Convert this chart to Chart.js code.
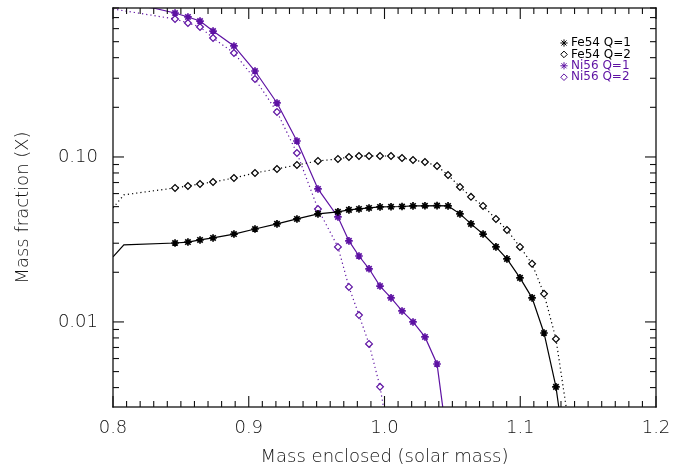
<!DOCTYPE html>
<html>
<head>
<meta charset="utf-8">
<script src="https://cdn.jsdelivr.net/npm/chart.js@4.4.1/dist/chart.umd.min.js"></script>
<style>
  html, body { margin: 0; padding: 0; background: #fff; }
  #wrap { position: relative; width: 688px; height: 473px; }
  #wrap canvas { position: absolute; left: 0; top: 0; }
  #frame { pointer-events: none; }
</style>
</head>
<body>
<div id="wrap">
  <canvas id="chart" width="688" height="473"></canvas>
  <canvas id="frame" width="688" height="473"></canvas>
</div>
<script>
// masa encerrada en cada marcador (M_sol)
const massGrid = [0.8457, 0.8552, 0.8641, 0.8737, 0.8891, 0.9046, 0.9208, 0.9355, 0.9510, 0.9657,
                  0.9738, 0.9812, 0.9886, 0.9967, 1.0048, 1.0129, 1.0210, 1.0298, 1.0387, 1.0468,
                  1.0556, 1.0637, 1.0726, 1.0821, 1.0902, 1.0998, 1.1087, 1.1175, 1.1263];

const fe54Q1 = [0.0301, 0.0305, 0.0314, 0.0323, 0.0341, 0.0366, 0.0393, 0.0421, 0.0452, 0.0465,
                0.0478, 0.0484, 0.0491, 0.0498, 0.0499, 0.0501, 0.0505, 0.0506, 0.0507, 0.0505,
                0.0452, 0.0393, 0.0341, 0.0285, 0.0241, 0.0185, 0.0140, 0.00857, 0.00404];
const fe54Q2 = [0.0649, 0.0667, 0.0686, 0.0705, 0.0746, 0.0800, 0.0846, 0.0895, 0.0946, 0.0973,
                0.1000, 0.1014, 0.1014, 0.1014, 0.1014, 0.0986, 0.0959, 0.0932, 0.0882, 0.0778,
                0.0658, 0.0573, 0.0505, 0.0421, 0.0361, 0.0285, 0.0225, 0.0148, 0.00789];
const ni56Q1 = [0.746, 0.706, 0.667, 0.580, 0.471, 0.332, 0.2125, 0.125, 0.0640, 0.0433,
                0.0310, 0.0251, 0.0210, 0.0165, 0.0140, 0.01166, 0.0100, 0.00811, 0.00556];
const ni56Q2 = [0.686, 0.649, 0.614, 0.526, 0.427, 0.297, 0.1875, 0.1057, 0.0484, 0.0285,
                0.0163, 0.0110, 0.00736, 0.00404];

// tramos de curva sin marcador [masa, X]
const fe54Q1Head = [[0.800, 0.0248], [0.808, 0.0293]];
const fe54Q1Tail = [[1.1290, 0.0028]];
const fe54Q2Head = [[0.800, 0.0491], [0.808, 0.0589], [0.818, 0.0605]];
const fe54Q2Tail = [[1.1345, 0.0028]];
const ni56Q1Head = [[0.800, 0.86], [0.8295, 0.80]];
const ni56Q1Tail = [[1.0435, 0.0028]];
const ni56Q2Head = [[0.800, 0.789]];
const ni56Q2Tail = [[1.0000, 0.0028]];

const xTicks = [];
for (let i = 80; i <= 120; i++) xTicks.push(i / 100);
const yTicks = [0.004, 0.005, 0.006, 0.007, 0.008, 0.009, 0.01, 0.02, 0.03, 0.04, 0.05, 0.06,
                0.07, 0.08, 0.09, 0.1, 0.2, 0.3, 0.4, 0.5, 0.6, 0.7, 0.8];
const yLabels = { '0.01': '0.01', '0.1': '0.10' };

const PURPLE = '#5e12a3';
const FONT = "'DejaVu Sans', sans-serif";
const AXIS = '#111111';

const buildPoints = (head, values, tail) => [
    ...head.map(p => ({ x: p[0], y: p[1], m: false })),
    ...values.map((v, i) => ({ x: massGrid[i], y: v, m: true })),
    ...tail.map(p => ({ x: p[0], y: p[1], m: false }))
];

const markRadius = r => ctx => (ctx.raw && ctx.raw.m ? r : 0);

const series = [
    { label: 'Fe54 Q=1', color: '#000', style: 'star', dash: [], data: buildPoints(fe54Q1Head, fe54Q1, fe54Q1Tail) },
    { label: 'Fe54 Q=2', color: '#000', style: 'rectRot', dash: [1.2, 3], data: buildPoints(fe54Q2Head, fe54Q2, fe54Q2Tail) },
    { label: 'Ni56 Q=1', color: PURPLE, style: 'star', dash: [], data: buildPoints(ni56Q1Head, ni56Q1, ni56Q1Tail) },
    { label: 'Ni56 Q=2', color: PURPLE, style: 'rectRot', dash: [1.2, 3], data: buildPoints(ni56Q2Head, ni56Q2, ni56Q2Tail) }
];

// caja y marcas hacia dentro (estilo IDL) en un lienzo superpuesto
function drawFrame(chart) {
    const ctx = document.getElementById('frame').getContext('2d');
    const a = chart.chartArea;
    const sx = chart.scales.x;
    const sy = chart.scales.y;
    const lw = 1.3;
    const tw = 1.1;
    ctx.clearRect(0, 0, 688, 473);
    ctx.fillStyle = AXIS;
    ctx.fillRect(a.left - lw / 2, a.top - lw / 2, lw, a.bottom - a.top + lw);
    ctx.fillRect(a.right - lw / 2, a.top - lw / 2, lw, a.bottom - a.top + lw);
    ctx.fillRect(a.left - lw / 2, a.top - lw / 2, a.right - a.left + lw, lw);
    ctx.fillRect(a.left - lw / 2, a.bottom - lw / 2, a.right - a.left + lw, lw);
    xTicks.forEach(v => {
        const px = sx.getPixelForValue(v);
        const len = Math.round(v * 100) % 10 === 0 ? 11 : 6;
        ctx.fillRect(px - tw / 2, a.bottom - len, tw, len);
        ctx.fillRect(px - tw / 2, a.top, tw, len);
    });
    yTicks.forEach(v => {
        const py = sy.getPixelForValue(v);
        const len = (v === 0.01 || v === 0.1) ? 11 : 6;
        ctx.fillRect(a.left, py - tw / 2, len, tw);
        ctx.fillRect(a.right - len, py - tw / 2, len, tw);
    });
}

function drawLegend(chart) {
    const ctx = chart.ctx;
    ctx.save();
    ctx.setLineDash([]);
    ctx.font = '12px ' + FONT;
    ctx.textBaseline = 'middle';
    series.forEach((s, i) => {
        const y = 43 + i * 11.4;
        ctx.strokeStyle = s.color;
        ctx.fillStyle = s.style === 'star' ? s.color : '#fff';
        Chart.helpers.drawPoint(ctx, {
            pointStyle: s.style,
            radius: s.style === 'star' ? 3.6 : 3.3,
            rotation: 0,
            borderWidth: s.style === 'star' ? 1.6 : 1.1
        }, 564, y);
        ctx.fillStyle = s.color;
        ctx.fillText(s.label, 571, y);
    });
    ctx.restore();
}

const decorations = {
    id: 'decorations',
    afterDraw(chart) {
        drawLegend(chart);
        drawFrame(chart);
    }
};

const chart = new Chart(document.getElementById('chart'), {
    type: 'line',
    data: {
        datasets: series.map(s => ({
            label: s.label,
            data: s.data,
            borderColor: s.color,
            borderWidth: 1.2,
            borderDash: s.dash,
            pointStyle: s.style,
            pointRadius: markRadius(s.style === 'star' ? 3.8 : 3.4),
            pointBorderWidth: s.style === 'star' ? 1.7 : 1.2,
            pointBorderColor: s.color,
            pointBackgroundColor: s.style === 'star' ? s.color : '#fff',
            tension: 0,
            fill: false
        }))
    },
    options: {
        responsive: false,
        animation: false,
        layout: { padding: { top: 8, right: 32, left: 0, bottom: 0 } },
        plugins: { legend: { display: false }, tooltip: { enabled: false } },
        scales: {
            x: {
                type: 'linear',
                min: 0.8,
                max: 1.2,
                afterBuildTicks: scale => { scale.ticks = xTicks.map(v => ({ value: v })); },
                afterFit: scale => { scale.height = 66; },
                grid: { display: false, drawTicks: false },
                border: { display: false },
                ticks: {
                    autoSkip: false,
                    maxRotation: 0,
                    padding: 11,
                    color: '#111',
                    font: { family: FONT, size: 18, weight: '200' },
                    callback: v => (Math.round(v * 100) % 10 === 0 ? v.toFixed(1) : '')
                },
                title: {
                    display: true,
                    text: 'Mass enclosed (solar mass)',
                    color: '#111',
                    padding: { top: 0, bottom: 5 },
                    font: { family: FONT, size: 18, weight: '200' }
                }
            },
            y: {
                type: 'logarithmic',
                min: 0.00305,
                max: 0.8,
                afterBuildTicks: scale => { scale.ticks = yTicks.map(v => ({ value: v })); },
                afterFit: scale => { scale.width = 113; scale.paddingTop = 0; scale.paddingBottom = 0; },
                grid: { display: false, drawTicks: false },
                border: { display: false },
                ticks: {
                    autoSkip: false,
                    padding: 15,
                    color: '#111',
                    font: { family: FONT, size: 18, weight: '200' },
                    callback: v => yLabels[String(v)] || ''
                },
                title: {
                    display: true,
                    text: 'Mass fraction (X)',
                    color: '#111',
                    padding: { top: 13, bottom: 0 },
                    font: { family: FONT, size: 18, weight: '200' }
                }
            }
        }
    },
    plugins: [decorations]
});

drawFrame(chart);
</script>
</body>
</html>
